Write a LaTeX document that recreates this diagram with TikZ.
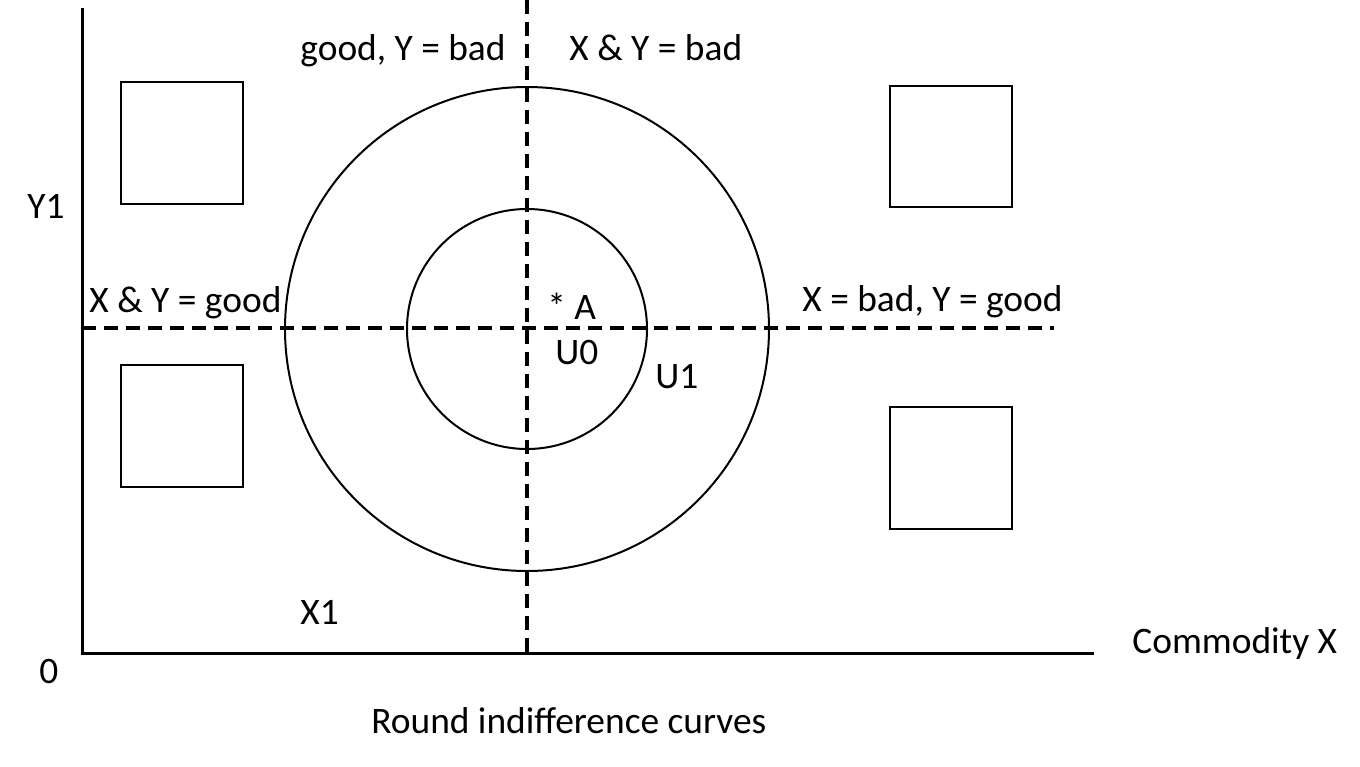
\documentclass[tikz,border=0pt]{standalone}
\usepackage{fontspec}
\setmainfont{Carlito}
\usetikzlibrary{positioning}

\begin{document}
\begin{tikzpicture}[x=0.5pt, y=-0.5pt,
  lbl/.style={font=\fontsize{18.7}{22}\selectfont, inner sep=0pt, anchor=base west},
  axis/.style={line width=1.5pt},
  curve/.style={line width=1pt},
  guide/.style={line width=1.7pt, dash pattern=on 7pt off 4pt},
  emptybox/.style={draw, line width=1pt},
]
\useasboundingbox (0,0) rectangle (1360,766);

% Axes
\coordinate (origin) at (82,653);
\coordinate (ytop) at (82,8);
\coordinate (xend) at (1094,653);
\draw[axis] (ytop) -- (origin) -- (xend);

% Dashed guides through the bliss point
\coordinate (centre) at (527,329);
\coordinate (vtop) at (527,0);
\coordinate (vbot) at (527,653);
\coordinate (hleft) at (82,328);
\coordinate (hright) at (1054,328);
\draw[guide] (vtop) -- (vbot);
\draw[guide] (hleft) -- (hright);

% Indifference curves
\draw[curve] (centre) circle[radius=242];
\draw[curve] (centre) circle[radius=120];

% Quadrant boxes
\draw[emptybox] (121,82) rectangle (243,204);
\draw[emptybox] (121,365) rectangle (243,487);
\draw[emptybox] (890,86) rectangle (1012,207);
\draw[emptybox] (890,407) rectangle (1012,529);

% Labels
\node[lbl] (goodbad) at (300,60) {good, Y = bad};
\node[lbl] (bothbad) at (569,60) {X \& Y = bad};
\node[lbl] (yone) at (27,218) {Y1};
\node[lbl] (bothgood) at (89,312) {X \& Y = good};
\node[lbl] (pointA) at (547,319) {* A};
\node[lbl] (uzero) at (555,364) {U0};
\node[lbl] (uone) at (655,388) {U1};
\node[lbl] (badgood) at (802,311) {X = bad, Y = good};
\node[lbl] (xone) at (300,624) {X1};
\node[lbl] (zero) at (39,683) {0};
\node[lbl] (xlabel) at (1132,653) {Commodity X};
\node[lbl] (caption) at (371,733) {Round indifference curves};

\end{tikzpicture}
\end{document}
